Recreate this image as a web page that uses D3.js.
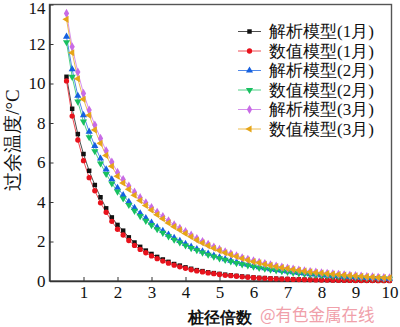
<!DOCTYPE html>
<html><head><meta charset="utf-8">
<script src="https://cdn.jsdelivr.net/npm/d3@7"></script>
<style>body{margin:0;background:#fff}svg{display:block}</style>
</head><body>
<svg id="c" width="400" height="327"></svg>
<script>
const xStart = 0.5, xStep = 1/6;
const seriesNames = ["解析模型(1月)","数值模型(1月)","解析模型(2月)","数值模型(2月)","解析模型(3月)","数值模型(3月)"];
const jan_analytic = [10.34,8.72,7.44,6.43,5.58,4.86,4.24,3.68,3.22,2.84,2.55,2.21,1.95,1.73,1.54,1.37,1.22,1.09,0.97,0.86,0.78,0.69,0.62,0.55,0.50,0.44,0.40,0.36,0.32,0.29,0.26,0.23,0.21,0.18,0.16,0.15,0.13,0.12,0.11,0.10,0.09,0.078,0.07,0.065,0.06,0.054,0.049,0.043,0.038,0.035,0.03,0.027,0.025,0.023,0.022,0.02,0.017,0.016];
const jan_numeric = [10.13,8.35,7.14,6.09,5.23,4.57,3.96,3.48,3.02,2.62,2.33,2.05,1.80,1.60,1.43,1.27,1.13,1.01,0.90,0.80,0.72,0.64,0.57,0.51,0.46,0.41,0.37,0.33,0.29,0.27,0.24,0.21,0.19,0.17,0.15,0.135,0.12,0.11,0.10,0.09,0.08,0.072,0.065,0.06,0.055,0.05,0.045,0.04,0.035,0.032,0.028,0.025,0.023,0.021,0.02,0.018,0.016,0.015];
const feb_analytic = [12.37,10.72,9.38,8.40,7.56,6.84,6.20,5.65,5.15,4.72,4.35,4.01,3.70,3.43,3.18,2.95,2.73,2.54,2.35,2.18,2.03,1.88,1.74,1.62,1.50,1.39,1.29,1.20,1.11,1.03,0.95,0.88,0.82,0.76,0.70,0.65,0.60,0.56,0.52,0.48,0.44,0.41,0.38,0.35,0.33,0.30,0.28,0.26,0.24,0.22,0.205,0.19,0.175,0.16,0.15,0.14,0.13,0.12];
const feb_numeric = [12.09,10.34,9.08,8.07,7.28,6.57,5.95,5.42,4.94,4.53,4.18,3.85,3.55,3.29,3.05,2.83,2.62,2.44,2.26,2.09,1.95,1.80,1.67,1.56,1.44,1.33,1.24,1.15,1.07,0.99,0.91,0.84,0.79,0.73,0.67,0.62,0.58,0.54,0.50,0.46,0.42,0.39,0.36,0.34,0.31,0.29,0.27,0.25,0.23,0.21,0.195,0.18,0.17,0.155,0.145,0.135,0.125,0.115];
const mar_analytic = [13.55,11.86,10.58,9.50,8.66,7.90,7.22,6.59,6.02,5.50,5.14,4.81,4.50,4.22,3.96,3.72,3.48,3.26,3.05,2.85,2.67,2.50,2.32,2.15,2.00,1.86,1.72,1.60,1.48,1.38,1.28,1.18,1.10,1.02,0.95,0.88,0.82,0.76,0.70,0.65,0.60,0.56,0.52,0.48,0.45,0.42,0.39,0.365,0.34,0.315,0.29,0.27,0.25,0.23,0.21,0.19,0.175,0.16];
const mar_numeric = [13.25,11.56,10.24,9.20,8.39,7.65,6.97,6.36,5.81,5.31,4.96,4.64,4.34,4.07,3.82,3.59,3.36,3.15,2.94,2.75,2.58,2.41,2.24,2.07,1.93,1.79,1.66,1.54,1.43,1.33,1.24,1.14,1.06,0.98,0.92,0.85,0.79,0.73,0.68,0.63,0.58,0.54,0.50,0.46,0.43,0.405,0.375,0.35,0.33,0.30,0.28,0.26,0.24,0.22,0.20,0.18,0.17,0.155];
const xTicks = [1,2,3,4,5,6,7,8,9,10];
const yTicks = [0,2,4,6,8,10,12,14];
const xTitle = "桩径倍数";
const yTitle = "过余温度/°C";
const watermark = "@有色金属在线";

const seriesData = [jan_analytic, jan_numeric, feb_analytic, feb_numeric, mar_analytic, mar_numeric];
const colors = ["#111111","#e8121c","#1560e0","#18c060","#c86be6","#e6a518"];
const symbols = [d3.symbolSquare, d3.symbolCircle, d3.symbolTriangle, d3.symbolTriangle, d3.symbolDiamond, d3.symbolTriangle];
const rotations = [0,0,0,180,0,-90];
const sizes = [20,22,22,22,24,22];
const SERIF = '"Liberation Serif"';

const svg = d3.select("#c");
const L = 49.5, R = 389.5, T = 4.5, B = 281;
const x = d3.scaleLinear().domain([0,10]).range([L,R]);
const y = d3.scaleLinear().domain([0,14]).range([B,T]);

// frame
svg.append("rect").attr("x",L).attr("y",T).attr("width",391.5-L).attr("height",B-T)
  .attr("fill","none").attr("stroke","#555").attr("stroke-width",1.4);

// axes with inward ticks
const xAxis = svg.append("g").attr("transform",`translate(0,${B})`)
  .call(d3.axisBottom(x).tickValues(xTicks).tickSizeInner(-4).tickSizeOuter(0).tickPadding(5));
const yAxis = svg.append("g").attr("transform",`translate(${L},0)`)
  .call(d3.axisLeft(y).tickValues(yTicks).tickSizeInner(-4).tickSizeOuter(0).tickPadding(4));
[xAxis,yAxis].forEach(g=>{
  g.attr("font-family",null).attr("font-size",null);
  g.select(".domain").attr("stroke","#333").attr("stroke-width",1.4);
  g.selectAll(".tick line").attr("stroke","#333").attr("stroke-width",1);
  g.selectAll("text").style("font-family",SERIF).style("font-size","17px").attr("fill","#111");
});
yAxis.selectAll(".tick").filter(d=>d===0).select("line").remove();
yAxis.selectAll(".tick").filter(d=>d===14).select("text").attr("dy","0.5em");

// series
const line = d3.line().x((d,i)=>x(xStart+i*xStep)).y(d=>y(d));
seriesData.forEach((vals,s)=>{
  svg.append("path").datum(vals).attr("d",line).attr("fill","none")
    .attr("stroke",colors[s]).attr("stroke-width",1).attr("stroke-opacity",0.75);
});
seriesData.forEach((vals,s)=>{
  const sym = d3.symbol().type(symbols[s]).size(sizes[s]);
  svg.append("g").selectAll("path").data(vals).join("path")
    .attr("d",sym)
    .attr("transform",(d,i)=>`translate(${x(xStart+i*xStep)},${y(d)}) rotate(${rotations[s]})`)
    .attr("fill",colors[s]);
});

// legend
const lg = svg.append("g");
seriesNames.forEach((name,s)=>{
  const yy = 31.5 + s*19.5;
  lg.append("line").attr("x1",238).attr("x2",261).attr("y1",yy).attr("y2",yy)
    .attr("stroke",colors[s]).attr("stroke-width",1).attr("stroke-opacity",0.75);
  lg.append("path").attr("d",d3.symbol().type(symbols[s]).size(sizes[s])())
    .attr("transform",`translate(249.5,${yy}) rotate(${rotations[s]})`).attr("fill",colors[s]);
  lg.append("text").attr("x",269).attr("y",yy).attr("dy","0.35em")
    .style("font-family",SERIF).style("font-size","17px").attr("fill","#111").text(name);
});

// titles
svg.append("text").attr("x",220).attr("y",317).attr("dy","0.35em").attr("text-anchor","middle")
  .style("font-family",SERIF).style("font-size","16px").style("font-weight","bold").attr("fill","#111").text(xTitle);
svg.append("text").attr("transform","translate(12,140) rotate(-90)").attr("dy","0.35em").attr("text-anchor","middle")
  .style("font-family",SERIF).style("font-size","19px").attr("fill","#111").text(yTitle);
svg.append("text").attr("x",260).attr("y",315).attr("dy","0.35em")
  .style("font-family",'"Noto Sans CJK SC", sans-serif').style("font-size","16.5px").attr("fill","#f0a0aa").text(watermark);
</script>
</body></html>
